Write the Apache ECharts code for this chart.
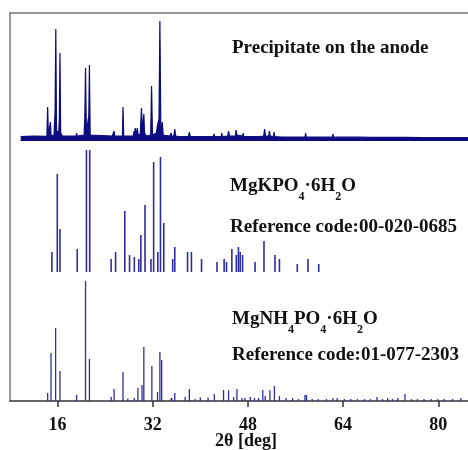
<!DOCTYPE html>
<html>
<head>
<meta charset="utf-8">
<script src="https://cdn.jsdelivr.net/npm/echarts@6/dist/echarts.min.js"></script>
<style>
html,body{margin:0;padding:0;background:#fff;}
#chart{width:468px;height:450px;}
</style>
</head>
<body>
<div id="chart"></div>
<script>
// x axis ticks (2θ, deg)
var tickValues = [16, 32, 48, 64, 80];

// Observed pattern: precipitate on the anode  [2θ, intensity]
var precipitatePattern = [
[9.8,4.5],[12,4.8],[14.2,4.6],[14.33,34],[14.46,4.8],[14.7,5],[14.8,19],[14.9,5.5],[15.4,6],[15.58,30],[15.7,112],[15.82,10],[16.2,9],[16.3,24],[16.4,88],[16.52,8],[16.8,5],
[19.1,5],[19.2,8],[19.3,4.8],[20.45,6],[20.58,24],[20.7,73],[20.84,8],[21.15,8],[21.25,26],[21.35,76],[21.48,6],[21.8,4.8],
[25.2,5],[25.3,7],[25.4,5],[25.5,10],[25.6,5],[26.9,5],[27.0,34],[27.12,5],[28.7,5],[28.85,10],[28.95,6],[29.05,13],[29.2,6],[29.4,13],[29.55,6],
[29.9,7],[30.1,33],[30.25,12],[30.35,15],[30.5,27],[30.62,8],[30.8,10],[30.95,5],[31.65,6],[31.8,55],[31.95,6],[32.6,8],[32.75,14],[32.9,12],[33.05,22],[33.2,120],[33.35,16],[33.5,12],[33.6,19],[33.75,6],[34.0,5],
[34.9,5],[35.05,8],[35.2,5],[35.55,5],[35.7,12],[35.85,5],[36.4,4.5],[36.5,6],[36.6,4.5],[37.1,4.5],[37.2,5.5],[37.3,4.5],[38.0,4.5],[38.15,9],[38.3,4.5],
[39.1,4.5],[39.2,5.5],[39.3,4.5],[40.2,4.5],[40.3,5.5],[40.4,4.5],[41.4,4.5],[41.5,5.5],[41.6,4.5],[42.2,4.5],[42.3,7],[42.4,4.5],[43.5,4.5],[43.6,8],[43.7,4.5],
[44.6,5],[44.75,10],[44.9,5],[45.1,5],[45.2,6],[45.3,5],[45.9,5],[46.0,11],[46.15,6],[46.3,8],[46.45,5],[47.1,5],[47.2,8],[47.3,4.5],[47.9,4.5],[48.0,6],[48.1,4.5],
[48.5,4.5],[48.6,5.5],[48.7,4.5],[49.2,4.5],[49.3,5.5],[49.4,4.5],[49.9,4.5],[50.0,6],[50.1,4.5],[50.65,5],[50.8,12],[50.95,5],[51.5,5],[51.6,10],[51.75,5],[52.3,4.5],[52.4,9],[52.5,4.5],
[53.2,4.2],[53.3,5.5],[53.4,4.2],[54.1,4],[54.2,5],[54.3,4],[55.7,4],[55.8,5],[55.9,4],[57.6,4],[57.7,8],[57.8,4],[59.9,4],[60.0,5],[60.1,4],[62.2,3.8],[62.3,7],[62.4,3.8],
[64.5,3.8],[64.6,4.6],[64.7,3.8],[66.4,3.8],[66.5,5],[66.6,3.8],[68.9,3.6],[69.0,4.4],[69.1,3.6],[71.9,3.6],[72.0,4.3],[72.1,3.6],[74.3,3.6],[74.4,5],[74.5,3.6],
[77.4,3.5],[77.5,4.2],[77.6,3.5],[80.9,3.5],[81.0,4],[81.1,3.5],[85,3.4]
];

// Reference MgKPO4·6H2O 00-020-0685 : positions and intensities
var mgkPos = [15.05,15.95,16.4,19.3,20.85,21.4,25.0,25.75,27.3,28.1,28.9,29.65,30.0,30.7,31.7,32.15,32.85,33.3,33.85,35.35,35.7,37.85,38.5,40.2,42.8,44.0,44.4,45.3,46.05,46.4,46.7,47.1,49.2,50.7,52.55,53.3,56.3,58.1,59.9];
var mgkInt = [20,98,43,23,122,122,13,20,61,17,15,13,37,67,13,110,20,115,49,13,25,20,20,13,10,13,10,23,17,25,20,17,10,31,17,13,8,13,8];

// Reference MgNH4PO4·6H2O 01-077-2303 : positions and intensities
var mgnPos = [14.33,14.9,15.67,16.4,19.2,20.7,21.35,25.0,25.5,27.0,27.8,28.9,29.5,30.2,30.5,31.85,32.8,33.2,33.5,35.1,35.2,35.7,37.45,38.15,39.1,40.0,41.3,42.35,43.9,44.75,45.6,46.15,47.0,47.5,48.4,49.1,49.8,50.5,50.9,51.7,52.45,53.3,54.4,55.5,56.5,57.6,57.85,58.8,59.8,61.2,62.3,63.0,64.2,65.3,66.4,67.6,68.6,69.7,70.6,71.5,72.3,73.2,74.4,75.5,76.5,77.6,78.8,79.9,81.0,82.4,83.8];
var mgnInt = [8,48,73,30,6,120,42,4,12,29,2.5,3,13,16,54,35,9,49,41,3,3,8,4,12,2,3.5,3.5,7,11,10.7,4,12,3,3,4,3,3,11,5,10.7,15,5,3,3,2,6,6,2,2,2,3,3,2,2,2,2,2,4,2,3,2,3,7,2,2,2,2,2,2,2,3];

function pairs(p, v){ return p.map(function(x,i){ return [x, v[i]]; }); }

var serif = '"Liberation Serif", "Times New Roman", serif';
var navy = '#0c0c80';
var stickBlue = '#2e2e9e';

var chart = echarts.init(document.getElementById('chart'), null, {renderer:'canvas'});

var X = {min: 8, max: 85};
function hiddenX(g){ return {type:'value', gridIndex:g, min:X.min, max:X.max, show:false}; }

var mainRich = {
  m: {fontFamily: serif, fontWeight: 'bold', fontSize: 19, color: '#111'},
  s: {fontFamily: serif, fontWeight: 'bold', fontSize: 12, color: '#111', padding: [20,0,0,0]}
};

var option = {
  animation: false,
  backgroundColor: '#fff',
  grid: [
    {left: 10, top: 13, width: 460, height: 388},
    {left: 10, top: 13, width: 460, height: 128},
    {left: 10, top: 150, width: 460, height: 122},
    {left: 10, top: 280, width: 460, height: 121}
  ],
  xAxis: [
    {type: 'value', gridIndex: 0, min: X.min, max: X.max,
      axisLine: {show: true, lineStyle: {color: '#333', width: 1.5}},
      axisTick: {show: true, customValues: tickValues, length: 6, lineStyle: {color: '#333', width: 1.5}},
      axisLabel: {show: true, customValues: tickValues, fontFamily: serif, fontWeight: 'bold', fontSize: 18, color: '#111', margin: 15},
      splitLine: {show: false}
    },
    hiddenX(1), hiddenX(2), hiddenX(3),
    {type: 'value', gridIndex: 0, position: 'top', min: X.min, max: X.max,
      axisLine: {show: true, lineStyle: {color: '#777', width: 1.5}},
      axisTick: {show: false}, axisLabel: {show: false}, splitLine: {show: false}}
  ],
  yAxis: [
    {type: 'value', gridIndex: 0, min: 0, max: 1,
      axisLine: {show: true, lineStyle: {color: '#777', width: 1.5}},
      axisTick: {show: false}, axisLabel: {show: false}, splitLine: {show: false}},
    {type: 'value', gridIndex: 1, min: 0, max: 128, show: false},
    {type: 'value', gridIndex: 2, min: 0, max: 122, show: false},
    {type: 'value', gridIndex: 3, min: 0, max: 121, show: false}
  ],
  series: [
    {type: 'line', xAxisIndex: 1, yAxisIndex: 1, data: precipitatePattern, symbol: 'none',
      lineStyle: {color: navy, width: 1.2}, areaStyle: {color: navy, opacity: 1}, z: 3},
    {type: 'bar', xAxisIndex: 2, yAxisIndex: 2, data: pairs(mgkPos, mgkInt), barWidth: 1.6,
      itemStyle: {color: stickBlue}},
    {type: 'bar', xAxisIndex: 3, yAxisIndex: 3, data: pairs(mgnPos, mgnInt), barWidth: 1.3,
      itemStyle: {color: stickBlue}}
  ],
  graphic: [
    {type: 'text', left: 232, top: 39, style: {text: 'Precipitate on the anode', font: 'bold 19px ' + serif, fill: '#111'}},
    {type: 'text', left: 230, top: 177, style: {text: '{m|MgKPO}{s|4}{m|·6H}{s|2}{m|O}', rich: mainRich, fill: '#111'}},
    {type: 'text', left: 230, top: 218, style: {text: 'Reference code:00-020-0685', font: 'bold 19px ' + serif, fill: '#111'}},
    {type: 'text', left: 232, top: 310, style: {text: '{m|MgNH}{s|4}{m|PO}{s|4}{m|·6H}{s|2}{m|O}', rich: mainRich, fill: '#111'}},
    {type: 'text', left: 232, top: 346, style: {text: 'Reference code:01-077-2303', font: 'bold 19px ' + serif, fill: '#111'}},
    {type: 'text', left: 215, top: 432, style: {text: '2θ [deg]', font: 'bold 18px ' + serif, fill: '#111'}}
  ]
};
chart.setOption(option);
</script>
</body>
</html>
